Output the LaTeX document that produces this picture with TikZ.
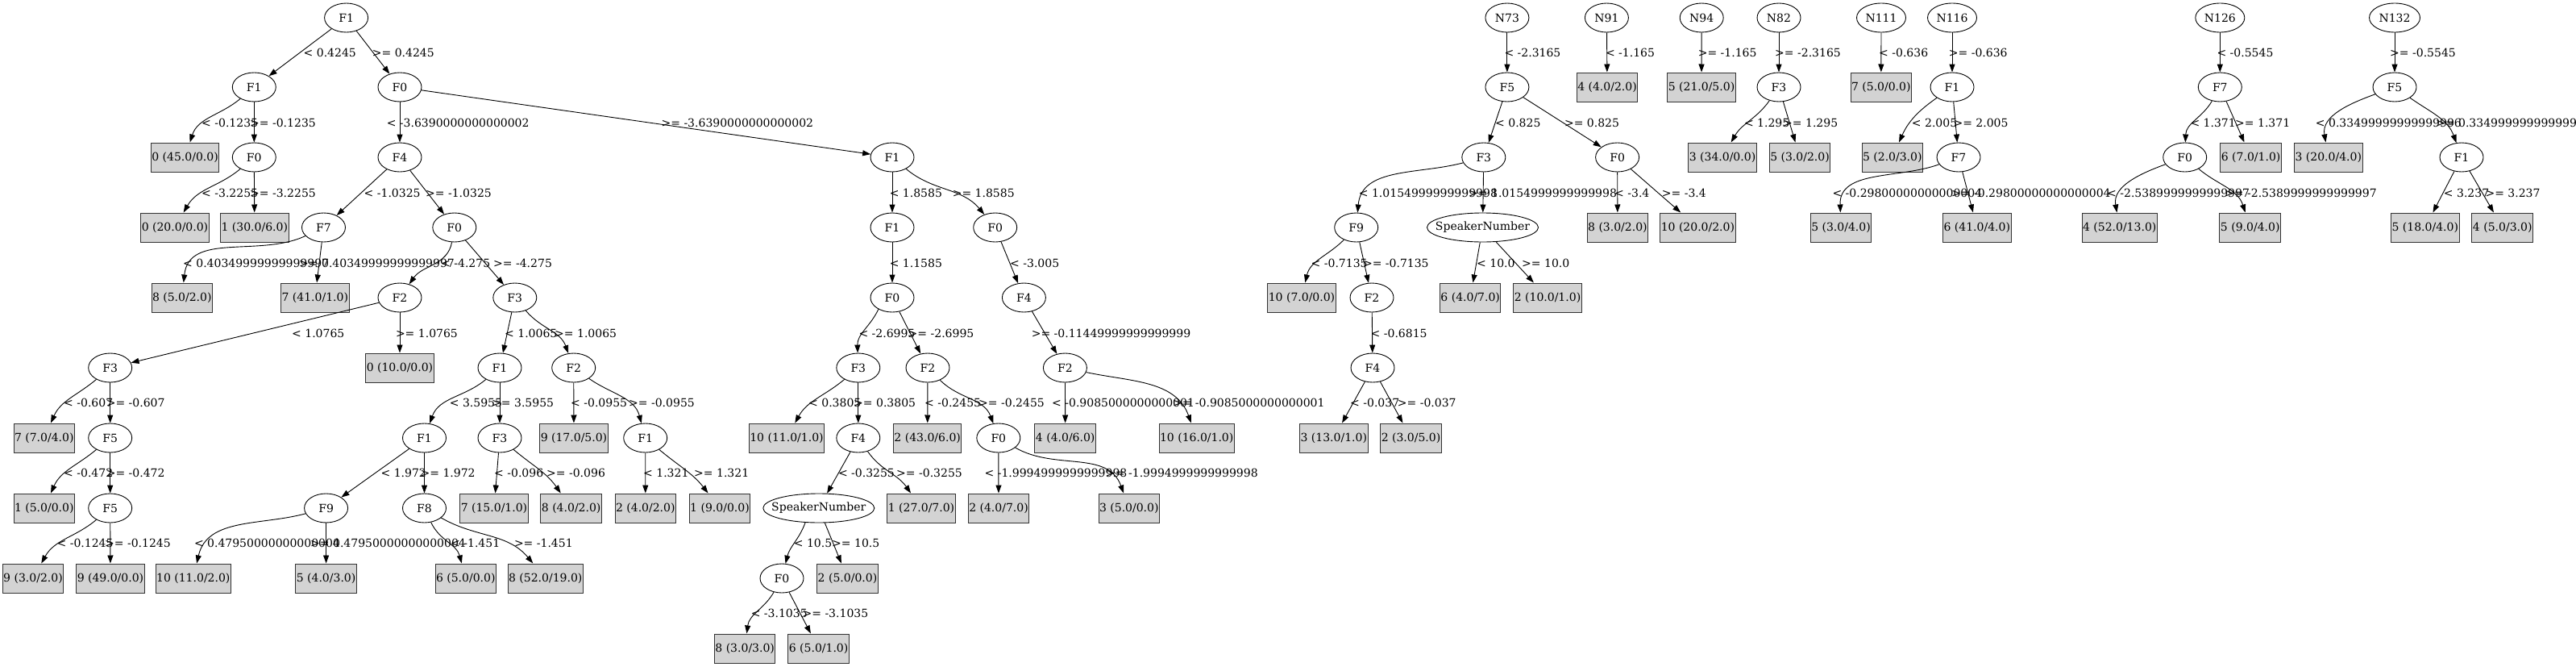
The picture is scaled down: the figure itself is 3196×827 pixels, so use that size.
\documentclass[tikz,border=0pt]{standalone}
\usepackage{fontspec}
\setmainfont{DejaVu Serif}
\usetikzlibrary{shapes.geometric,arrows.meta}
\definecolor{leafgray}{HTML}{D3D3D3}
\begin{document}
\begin{tikzpicture}[x=1pt,y=1pt,
  every node/.style={font=\fontsize{14}{16}\selectfont},
  dn/.style={ellipse,draw,line width=0.9pt,minimum width=54pt,minimum height=36pt,inner sep=0pt},
  lf/.style={rectangle,draw=black!80,line width=1pt,fill=leafgray,minimum height=36pt,inner xsep=1pt,inner ysep=0pt},
  lbl/.style={anchor=west,inner sep=0pt},
  arr/.style={draw,line width=0.9pt,-{Triangle[length=10pt,width=7pt]}}]
\useasboundingbox (0,0) rectangle (3196,-827);
% ---------- Tree A ----------
\node[dn] (A1) at (429.6,-22) {F1};
\node[dn] (A2) at (315.3,-108) {F1};
\node[dn] (A3) at (496,-108) {F0};
\node[lf] (L1) at (229.6,-195) {0 (45.0/0.0)};
\node[dn] (A4) at (315.3,-195) {F0};
\node[dn] (A5) at (496,-195) {F4};
\node[dn] (A6) at (1107,-195) {F1};
\node[lf] (L2) at (217,-282) {0 (20.0/0.0)};
\node[lf] (L3) at (315.8,-282) {1 (30.0/6.0)};
\node[dn] (A7) at (401.5,-282) {F7};
\node[dn] (A8) at (563.8,-282) {F0};
\node[dn] (A21) at (1107,-282) {F1};
\node[dn] (A22) at (1234.7,-282) {F0};
\node[lf] (L4) at (225.8,-369) {8 (5.0/2.0)};
\node[lf] (L5) at (390.8,-369) {7 (41.0/1.0)};
\node[dn] (A9) at (496,-369) {F2};
\node[dn] (A10) at (638.8,-369) {F3};
\node[dn] (A23) at (1107,-369) {F0};
\node[dn] (A24) at (1270.4,-369) {F4};
\node[dn] (A11) at (136.7,-456) {F3};
\node[lf] (L6) at (496,-456) {0 (10.0/0.0)};
\node[dn] (A12) at (620,-456) {F1};
\node[dn] (A13) at (711.7,-456) {F2};
\node[dn] (A25) at (1064.8,-456) {F3};
\node[dn] (A26) at (1151,-456) {F2};
\node[dn] (A27) at (1321.4,-456) {F2};
\node[lf] (L7) at (54.8,-543) {7 (7.0/4.0)};
\node[dn] (A14) at (136.7,-543) {F5};
\node[dn] (A16) at (526.5,-543) {F1};
\node[dn] (A17) at (620,-543) {F3};
\node[lf] (L11) at (712,-543) {9 (17.0/5.0)};
\node[dn] (A18) at (800.7,-543) {F1};
\node[lf] (L20) at (976,-543) {10 (11.0/1.0)};
\node[dn] (A28) at (1064.8,-543) {F4};
\node[lf] (L21) at (1150.7,-543) {2 (43.0/6.0)};
\node[dn] (A29) at (1238.8,-543) {F0};
\node[lf] (L22) at (1321.7,-543) {4 (4.0/6.0)};
\node[lf] (L23) at (1484.7,-543) {10 (16.0/1.0)};
\node[lf] (L8) at (54.8,-630) {1 (5.0/0.0)};
\node[dn] (A15) at (136.7,-630) {F5};
\node[dn] (A19) at (404.6,-630) {F9};
\node[dn] (A20) at (526.5,-630) {F8};
\node[lf] (L12) at (613,-630) {7 (15.0/1.0)};
\node[lf] (L13) at (708.7,-630) {8 (4.0/2.0)};
\node[lf] (L14) at (800.8,-630) {2 (4.0/2.0)};
\node[lf] (L15) at (893,-630) {1 (9.0/0.0)};
\node[dn,minimum width=138pt] (A30) at (1015.8,-630) {\makebox[0pt]{SpeakerNumber}};
\node[lf] (L24) at (1143,-630) {1 (27.0/7.0)};
\node[lf] (L25) at (1239,-630) {2 (4.0/7.0)};
\node[lf] (L26) at (1400.8,-630) {3 (5.0/0.0)};
\node[lf] (L9) at (41,-717) {9 (3.0/2.0)};
\node[lf] (L10) at (137,-717) {9 (49.0/0.0)};
\node[lf] (L16) at (239.8,-717) {10 (11.0/2.0)};
\node[lf] (L17) at (404.6,-717) {5 (4.0/3.0)};
\node[lf] (L18) at (577.8,-717) {6 (5.0/0.0)};
\node[lf] (L19) at (676.8,-717) {8 (52.0/19.0)};
\node[dn] (A31) at (970,-717) {F0};
\node[lf] (L27) at (1051.5,-717) {2 (5.0/0.0)};
\node[lf] (L28) at (924.2,-804) {8 (3.0/3.0)};
\node[lf] (L29) at (1015.6,-804) {6 (5.0/1.0)};
% ---------- Tree B and small trees ----------
\node[dn] (N73) at (1869.9,-22) {N73};
\node[dn] (B1) at (1869.9,-108) {F5};
\node[dn] (B2) at (1840.8,-195) {F3};
\node[dn] (B3) at (2006.6,-195) {F0};
\node[dn] (B4) at (1682.7,-282) {F9};
\node[dn,minimum width=138pt] (B5) at (1839.5,-282) {\makebox[0pt]{SpeakerNumber}};
\node[lf] (L30) at (2006.9,-282) {8 (3.0/2.0)};
\node[lf] (L31) at (2106.4,-282) {10 (20.0/2.0)};
\node[lf] (L32) at (1615,-369) {10 (7.0/0.0)};
\node[dn] (B6) at (1702,-369) {F2};
\node[lf] (L33) at (1824.2,-369) {6 (4.0/7.0)};
\node[lf] (L34) at (1920,-369) {2 (10.0/1.0)};
\node[dn] (B7) at (1703,-456) {F4};
\node[lf] (L35) at (1654.8,-543) {3 (13.0/1.0)};
\node[lf] (L36) at (1750.5,-543) {2 (3.0/5.0)};
\node[dn] (N91) at (1993.4,-22) {N91};
\node[lf] (L37) at (1994,-108) {4 (4.0/2.0)};
\node[dn] (N94) at (2111.2,-22) {N94};
\node[lf] (L38) at (2111,-108) {5 (21.0/5.0)};
\node[dn] (N82) at (2207,-22) {N82};
\node[dn] (B8) at (2207,-108) {F3};
\node[lf] (L39) at (2137,-195) {3 (34.0/0.0)};
\node[lf] (L40) at (2233,-195) {5 (3.0/2.0)};
\node[dn,minimum width=61pt] (N111) at (2334,-22) {N111};
\node[lf] (L41) at (2333.8,-108) {7 (5.0/0.0)};
\node[dn,minimum width=61pt] (N116) at (2422,-22) {N116};
\node[dn] (B9) at (2422,-108) {F1};
\node[lf] (L42) at (2347.8,-195) {5 (2.0/3.0)};
\node[dn] (B10) at (2430,-195) {F7};
\node[lf] (L43) at (2284,-282) {5 (3.0/4.0)};
\node[lf] (L44) at (2452.8,-282) {6 (41.0/4.0)};
\node[dn,minimum width=61pt] (N126) at (2754.3,-22) {N126};
\node[dn] (B11) at (2754.3,-108) {F7};
\node[dn] (B12) at (2710.7,-195) {F0};
\node[lf] (L45) at (2792.6,-195) {6 (7.0/1.0)};
\node[lf] (L46) at (2629.7,-282) {4 (52.0/13.0)};
\node[lf] (L47) at (2791.7,-282) {5 (9.0/4.0)};
\node[dn,minimum width=63pt] (N132) at (2971,-22) {N132};
\node[dn] (B13) at (2971,-108) {F5};
\node[lf] (L48) at (2888.8,-195) {3 (20.0/4.0)};
\node[dn] (B14) at (3054,-195) {F1};
\node[lf] (L49) at (3008.8,-282) {5 (18.0/4.0)};
\node[lf] (L50) at (3104.7,-282) {4 (5.0/3.0)};
% ---------- edges Tree A ----------
\draw[arr] (A1) -- (A2);
\draw[arr] (A1) -- (A3);
\draw[arr] (A2) to[out=-140,in=72] (L1);
\draw[arr] (A2) -- (A4);
\draw[arr] (A4) to[out=-140,in=60] (L2);
\draw[arr] (A4) -- (L3);
\draw[arr] (A3) -- (A5);
\draw[arr] (A3) -- (A6);
\draw[arr] (A5) -- (A7);
\draw[arr] (A5) -- (A8);
\draw[arr] (A7) to[out=-155,in=84] (L4);
\draw[arr] (A7) -- (L5);
\draw[arr] (A8) to[out=-100,in=55] (A9);
\draw[arr] (A8) -- (A10);
\draw[arr] (A9) -- (A11);
\draw[arr] (A9) -- (L6);
\draw[arr] (A10) -- (A12);
\draw[arr] (A10) to[out=-50,in=110] (A13);
\draw[arr] (A11) to[out=-140,in=66] (L7);
\draw[arr] (A11) -- (A14);
\draw[arr] (A14) to[out=-140,in=66] (L8);
\draw[arr] (A14) -- (A15);
\draw[arr] (A15) to[out=-140,in=61] (L9);
\draw[arr] (A15) -- (L10);
\draw[arr] (A12) to[out=-140,in=70] (A16);
\draw[arr] (A12) -- (A17);
\draw[arr] (A13) -- (L11);
\draw[arr] (A13) to[out=-35,in=105] (A18);
\draw[arr] (A16) -- (A19);
\draw[arr] (A16) -- (A20);
\draw[arr] (A17) -- (L12);
\draw[arr] (A17) to[out=-40,in=125] (L13);
\draw[arr] (A18) -- (L14);
\draw[arr] (A18) to[out=-40,in=128] (L15);
\draw[arr] (A19) to[out=-165,in=77] (L16);
\draw[arr] (A19) -- (L17);
\draw[arr] (A20) to[out=-65,in=105] (L18);
\draw[arr] (A20) to[out=-30,in=130] (L19);
\draw[arr] (A6) -- (A21);
\draw[arr] (A6) to[out=-40,in=130] (A22);
\draw[arr] (A21) -- (A23);
\draw[arr] (A22) -- (A24);
\draw[arr] (A23.-140) to[out=-115,in=92] (A25);
\draw[arr] (A23) -- (A26);
\draw[arr] (A24) -- (A27);
\draw[arr] (A25) to[out=-140,in=61] (L20);
\draw[arr] (A25) -- (A28);
\draw[arr] (A26) -- (L21);
\draw[arr] (A26) to[out=-45,in=110] (A29);
\draw[arr] (A27) -- (L22);
\draw[arr] (A27) to[out=-12,in=110] (L23);
\draw[arr] (A28) -- (A30);
\draw[arr] (A28) to[out=-55,in=125] (L24);
\draw[arr] (A29) -- (L25);
\draw[arr] (A29) to[out=-30,in=110] (L26);
\draw[arr] (A30.-133) to[out=-110,in=76] (A31);
\draw[arr] (A30) -- (L27);
\draw[arr] (A31) to[out=-120,in=83] (L28);
\draw[arr] (A31) -- (L29);
% ---------- edges Tree B ----------
\draw[arr] (N73) -- (B1);
\draw[arr] (B1) -- (B2);
\draw[arr] (B1) -- (B3);
\draw[arr] (B2) to[out=-165,in=85] (B4);
\draw[arr] (B2) -- (B5);
\draw[arr] (B3) -- (L30);
\draw[arr] (B3) -- (L31);
\draw[arr] (B4) to[out=-135,in=77] (L32);
\draw[arr] (B4) -- (B6);
\draw[arr] (B5) -- (L33);
\draw[arr] (B5) -- (L34);
\draw[arr] (B6) -- (B7);
\draw[arr] (B7) -- (L35);
\draw[arr] (B7) -- (L36);
\draw[arr] (N91) -- (L37);
\draw[arr] (N94) -- (L38);
\draw[arr] (N82) -- (B8);
\draw[arr] (B8) to[out=-125,in=60] (L39);
\draw[arr] (B8) -- (L40);
\draw[arr] (N111) -- (L41);
\draw[arr] (N116) -- (B9);
\draw[arr] (B9) to[out=-145,in=66] (L42);
\draw[arr] (B9) -- (B10);
\draw[arr] (B10) to[out=-160,in=92] (L43);
\draw[arr] (B10) -- (L44);
\draw[arr] (N126) -- (B11);
\draw[arr] (B11) to[out=-120,in=88] (B12);
\draw[arr] (B11) -- (L45);
\draw[arr] (B12) to[out=-160,in=100] (L46);
\draw[arr] (B12) to[out=-40,in=108] (L47);
\draw[arr] (N132) -- (B13);
\draw[arr] (B13) to[out=-160,in=100] (L48);
\draw[arr] (B13) to[out=-35,in=110] (B14);
\draw[arr] (B14) -- (L49);
\draw[arr] (B14) -- (L50);
% ---------- edge labels Tree A ----------
\node[lbl] (e1) at (376.5,-65) {< 0.4245};
\node[lbl] (e2) at (461.7,-65) {>= 0.4245};
\node[lbl] (e3) at (250,-152) {< -0.1235};
\node[lbl] (e4) at (310,-152) {>= -0.1235};
\node[lbl] (e5) at (479.6,-152) {< -3.6390000000000002};
\node[lbl] (e6) at (820.4,-152) {>= -3.6390000000000002};
\node[lbl] (e7) at (250,-239) {< -3.2255};
\node[lbl] (e8) at (310,-239) {>= -3.2255};
\node[lbl] (e9) at (451.5,-239) {< -1.0325};
\node[lbl] (e10) at (528,-239) {>= -1.0325};
\node[lbl] (e11) at (1103.6,-239) {< 1.8585};
\node[lbl] (e12) at (1181.6,-239) {>= 1.8585};
\node[lbl] (e13) at (227,-326) {< 0.40349999999999997};
\node[lbl] (e14) at (371,-326) {>= 0.40349999999999997};
\node[lbl] (e15) at (547,-326) {< -4.275};
\node[lbl] (e16) at (612,-326) {>= -4.275};
\node[lbl] (e17) at (1103.6,-326) {< 1.1585};
\node[lbl] (e18) at (1253,-326) {< -3.005};
\node[lbl] (e19) at (362,-413) {< 1.0765};
\node[lbl] (e20) at (490.8,-413) {>= 1.0765};
\node[lbl] (e21) at (626,-413) {< 1.0065};
\node[lbl] (e22) at (688,-413) {>= 1.0065};
\node[lbl] (e23) at (1065.3,-413) {< -2.6995};
\node[lbl] (e24) at (1126.5,-413) {>= -2.6995};
\node[lbl] (e25) at (1279.6,-413) {>= -0.11449999999999999};
\node[lbl] (e26) at (79,-499) {< -0.607};
\node[lbl] (e27) at (131.6,-499) {>= -0.607};
\node[lbl] (e28) at (557.7,-499) {< 3.5955};
\node[lbl] (e29) at (610,-499) {>= 3.5955};
\node[lbl] (e30) at (708,-499) {< -0.0955};
\node[lbl] (e31) at (780,-499) {>= -0.0955};
\node[lbl] (e32) at (1003,-499) {< 0.3805};
\node[lbl] (e33) at (1059,-499) {>= 0.3805};
\node[lbl] (e34) at (1147,-499) {< -0.2455};
\node[lbl] (e35) at (1214,-499) {>= -0.2455};
\node[lbl] (e36) at (1305,-499) {< -0.9085000000000001};
\node[lbl] (e37) at (1454.8,-499) {>= -0.9085000000000001};
\node[lbl] (e38) at (79,-586) {< -0.472};
\node[lbl] (e39) at (131.6,-586) {>= -0.472};
\node[lbl] (e40) at (472.4,-586) {< 1.972};
\node[lbl] (e41) at (521.4,-586) {>= 1.972};
\node[lbl] (e42) at (613,-586) {< -0.096};
\node[lbl] (e43) at (678,-586) {>= -0.096};
\node[lbl] (e44) at (798,-586) {< 1.321};
\node[lbl] (e45) at (861,-586) {>= 1.321};
\node[lbl] (e46) at (1039.8,-586) {< -0.3255};
\node[lbl] (e47) at (1112,-586) {>= -0.3255};
\node[lbl] (e48) at (1221.4,-586) {< -1.9994999999999998};
\node[lbl] (e49) at (1372,-586) {>= -1.9994999999999998};
\node[lbl] (e50) at (70.4,-673) {< -0.1245};
\node[lbl] (e51) at (130,-673) {>= -0.1245};
\node[lbl] (e52) at (240.8,-673) {< 0.47950000000000004};
\node[lbl] (e53) at (385,-673) {>= 0.47950000000000004};
\node[lbl] (e54) at (559,-673) {< -1.451};
\node[lbl] (e55) at (637.8,-673) {>= -1.451};
\node[lbl] (e56) at (984.7,-673) {< 10.5};
\node[lbl] (e57) at (1032,-673) {>= 10.5};
\node[lbl] (e58) at (931.6,-760) {< -3.1035};
\node[lbl] (e59) at (995.4,-760) {>= -3.1035};
% ---------- edge labels Tree B ----------
\node[lbl] (f1) at (1866.3,-65) {< -2.3165};
\node[lbl] (f2) at (1991.8,-65) {< -1.165};
\node[lbl] (f3) at (2106.6,-65) {>= -1.165};
\node[lbl] (f4) at (2202,-65) {>= -2.3165};
\node[lbl] (f5) at (2331,-65) {< -0.636};
\node[lbl] (f6) at (2417.7,-65) {>= -0.636};
\node[lbl] (f7) at (2750.3,-65) {< -0.5545};
\node[lbl] (f8) at (2965,-65) {>= -0.5545};
\node[lbl] (f9) at (1855,-152) {< 0.825};
\node[lbl] (f10) at (1940.8,-152) {>= 0.825};
\node[lbl] (f11) at (2163.8,-152) {< 1.295};
\node[lbl] (f12) at (2212,-152) {>= 1.295};
\node[lbl] (f13) at (2371.7,-152) {< 2.005};
\node[lbl] (f14) at (2423.3,-152) {>= 2.005};
\node[lbl] (f15) at (2717.3,-152) {< 1.371};
\node[lbl] (f16) at (2773,-152) {>= 1.371};
\node[lbl] (f17) at (2872.7,-152) {< 0.33499999999999996};
\node[lbl] (f18) at (3022,-152) {>= 0.33499999999999996};
\node[lbl] (f19) at (1685.7,-239) {< 1.0154999999999998};
\node[lbl] (f20) at (1822,-239) {>= 1.0154999999999998};
\node[lbl] (f21) at (2003,-239) {< -3.4};
\node[lbl] (f22) at (2061.7,-239) {>= -3.4};
\node[lbl] (f23) at (2273.3,-239) {< -0.29800000000000004};
\node[lbl] (f24) at (2421,-239) {>= -0.29800000000000004};
\node[lbl] (f25) at (2614,-239) {< -2.5389999999999997};
\node[lbl] (f26) at (2760,-239) {>= -2.5389999999999997};
\node[lbl] (f27) at (3031.7,-239) {< 3.237};
\node[lbl] (f28) at (3083.3,-239) {>= 3.237};
\node[lbl] (f29) at (1626.5,-326) {< -0.7135};
\node[lbl] (f30) at (1690.8,-326) {>= -0.7135};
\node[lbl] (f31) at (1832,-326) {< 10.0};
\node[lbl] (f32) at (1888,-326) {>= 10.0};
\node[lbl] (f33) at (1700.5,-413) {< -0.6815};
\node[lbl] (f34) at (1675,-499) {< -0.037};
\node[lbl] (f35) at (1733.7,-499) {>= -0.037};
\end{tikzpicture}
\end{document}
